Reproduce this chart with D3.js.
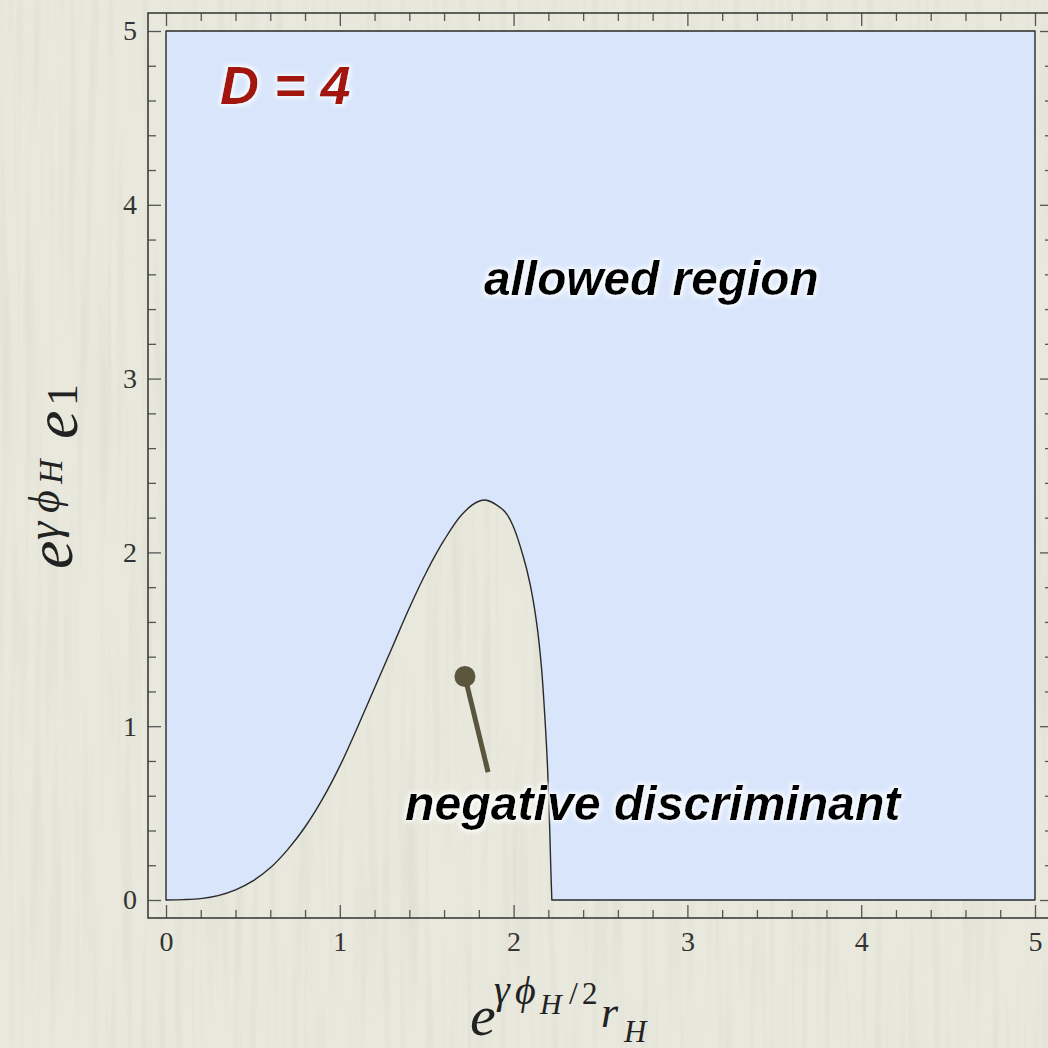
<!DOCTYPE html>
<html>
<head>
<meta charset="utf-8">
<script src="https://cdn.jsdelivr.net/npm/d3@7"></script>
<style>
  html, body { margin: 0; padding: 0; background: #e8e8dd; }
  svg { display: block; }
</style>
</head>
<body>
<svg id="chart" width="1048" height="1048"></svg>
<script>
// Boundary of the negative-discriminant region (D = 4), as rH -> e1 pairs
const boundaryRH = [0, 0.1, 0.2, 0.3, 0.4, 0.5, 0.6, 0.7, 0.8, 0.9, 1.0, 1.1, 1.2, 1.3, 1.4, 1.5, 1.6, 1.7, 1.79, 1.845, 1.95, 2.0, 2.056, 2.094, 2.133, 2.16, 2.18, 2.195, 2.208, 2.215, 2.22];
const boundaryE1 = [0, 0.002, 0.008, 0.025, 0.058, 0.11, 0.185, 0.29, 0.42, 0.58, 0.77, 0.99, 1.22, 1.45, 1.68, 1.89, 2.07, 2.215, 2.29, 2.30, 2.234, 2.145, 1.975, 1.822, 1.592, 1.342, 1.05, 0.77, 0.40, 0.15, 0];

// Plot window
const xDomain = [0, 5];
const yDomain = [0, 5];
const xTickValues = [0, 1, 2, 3, 4, 5];
const yTickValues = [0, 1, 2, 3, 4, 5];
const minorStep = 0.2;

// Pointer marking the excluded region: knob and tail end
const pointerHead = [1.72, 1.286];
const pointerTail = [1.853, 0.736];

const svg = d3.select("#chart");
const W = 1048, H = 1048;

const x = d3.scaleLinear().domain(xDomain).range([166, 1035]);
const y = d3.scaleLinear().domain(yDomain).range([900, 31]);

const defs = svg.append("defs");

// paper texture: faint vertical streaks
const paper = defs.append("filter").attr("id", "paper")
  .attr("x", 0).attr("y", 0).attr("width", 1).attr("height", 1);
paper.append("feTurbulence").attr("type", "fractalNoise")
  .attr("baseFrequency", "0.12 0.004").attr("numOctaves", 2).attr("seed", 3).attr("result", "n");
paper.append("feColorMatrix").attr("in", "n").attr("type", "matrix")
  .attr("values", "0 0 0 0 0.45  0 0 0 0 0.45  0 0 0 0 0.38  1.2 0 0 0 -0.55");

// soft white halo behind the annotations
const glow = defs.append("filter").attr("id", "glow")
  .attr("x", "-10%").attr("y", "-30%").attr("width", "120%").attr("height", "160%");
glow.append("feMorphology").attr("in", "SourceAlpha").attr("operator", "dilate").attr("radius", 1.5).attr("result", "d");
glow.append("feGaussianBlur").attr("in", "d").attr("stdDeviation", 2.2).attr("result", "b");
glow.append("feFlood").attr("flood-color", "#ffffff").attr("flood-opacity", 0.85).attr("result", "c");
glow.append("feComposite").attr("in", "c").attr("in2", "b").attr("operator", "in").attr("result", "h");
const gm = glow.append("feMerge");
gm.append("feMergeNode").attr("in", "h");
gm.append("feMergeNode").attr("in", "SourceGraphic");

// background paper
svg.append("rect").attr("width", W).attr("height", H).attr("fill", "#e8e8dd");
svg.append("rect").attr("width", W).attr("height", H).attr("filter", "url(#paper)").attr("opacity", 0.3);

// allowed region = plot window minus the area under the boundary
const pts = boundaryRH.map((r, i) => [r, boundaryE1[i]]);
const curveLine = d3.line().x(d => x(d[0])).y(d => y(d[1])).curve(d3.curveCatmullRom.alpha(0.5));
const allowedPath = curveLine(pts)
  + "L" + x(xDomain[1]) + "," + y(yDomain[0])
  + "L" + x(xDomain[1]) + "," + y(yDomain[1])
  + "L" + x(xDomain[0]) + "," + y(yDomain[1]) + "Z";

svg.append("path").attr("d", allowedPath)
  .attr("fill", "#d8e5fb")
  .attr("stroke", "none");
svg.append("path").attr("d", allowedPath)
  .attr("fill", "none")
  .attr("stroke", "#2a2a2a")
  .attr("stroke-width", 1.4)
  .attr("stroke-linejoin", "round");

// frame with inward ticks on all four sides
const frameL = 148, frameR = 1053, frameT = 13, frameB = 918;
const minorX = d3.range(xDomain[0], xDomain[1] + 1e-9, minorStep).filter(v => Math.abs(v - Math.round(v)) > 1e-6);
const minorY = d3.range(yDomain[0], yDomain[1] + 1e-9, minorStep).filter(v => Math.abs(v - Math.round(v)) > 1e-6);

function styleAxis(g) {
  g.select(".domain").remove();
  g.selectAll(".tick line").attr("stroke", "#555").attr("stroke-width", 1.3);
  g.selectAll(".tick text")
    .attr("fill", "#333")
    .attr("font-family", "'Liberation Serif', 'Times New Roman', serif")
    .attr("font-size", 28);
}

// bottom
svg.append("g").attr("transform", `translate(0,${frameB})`)
  .call(d3.axisBottom(x).tickValues(xTickValues).tickSize(-13).tickPadding(13).tickFormat(d3.format("d")))
  .call(styleAxis);
svg.append("g").attr("transform", `translate(0,${frameB})`)
  .call(d3.axisBottom(x).tickValues(minorX).tickSize(-8).tickFormat(""))
  .call(styleAxis);
// top
svg.append("g").attr("transform", `translate(0,${frameT})`)
  .call(d3.axisTop(x).tickValues(xTickValues).tickSize(-13).tickFormat(""))
  .call(styleAxis);
svg.append("g").attr("transform", `translate(0,${frameT})`)
  .call(d3.axisTop(x).tickValues(minorX).tickSize(-8).tickFormat(""))
  .call(styleAxis);
// left
svg.append("g").attr("transform", `translate(${frameL},0)`)
  .call(d3.axisLeft(y).tickValues(yTickValues).tickSize(-13).tickPadding(11).tickFormat(d3.format("d")))
  .call(styleAxis);
svg.append("g").attr("transform", `translate(${frameL},0)`)
  .call(d3.axisLeft(y).tickValues(minorY).tickSize(-8).tickFormat(""))
  .call(styleAxis);
// right
svg.append("g").attr("transform", `translate(${frameR},0)`)
  .call(d3.axisRight(y).tickValues(yTickValues).tickSize(-13).tickFormat(""))
  .call(styleAxis);
svg.append("g").attr("transform", `translate(${frameR},0)`)
  .call(d3.axisRight(y).tickValues(minorY).tickSize(-8).tickFormat(""))
  .call(styleAxis);

svg.append("rect")
  .attr("x", frameL).attr("y", frameT)
  .attr("width", frameR - frameL).attr("height", frameB - frameT)
  .attr("fill", "none").attr("stroke", "#3c3c3c").attr("stroke-width", 1.6);

// pointer into the excluded region
svg.append("line")
  .attr("x1", x(pointerHead[0])).attr("y1", y(pointerHead[1]))
  .attr("x2", x(pointerTail[0])).attr("y2", y(pointerTail[1]))
  .attr("stroke", "#5a553d").attr("stroke-width", 5);
svg.append("circle")
  .attr("cx", x(pointerHead[0])).attr("cy", y(pointerHead[1]))
  .attr("r", 10.5).attr("fill", "#5a553d");

// annotations
const sans = "'Liberation Sans', Arial, Helvetica, sans-serif";
svg.append("text").attr("x", 220).attr("y", 104)
  .attr("font-family", sans).attr("font-weight", "bold").attr("font-style", "italic")
  .attr("font-size", 54).attr("fill", "#a31808").attr("filter", "url(#glow)")
  .text("D = 4");
svg.append("text").attr("x", 484).attr("y", 295)
  .attr("font-family", sans).attr("font-weight", "bold").attr("font-style", "italic")
  .attr("font-size", 47.8).attr("fill", "#000").attr("filter", "url(#glow)")
  .text("allowed region");
svg.append("text").attr("x", 405).attr("y", 820)
  .attr("font-family", sans).attr("font-weight", "bold").attr("font-style", "italic")
  .attr("font-size", 48.2).attr("fill", "#000").attr("filter", "url(#glow)")
  .text("negative discriminant");

// axis titles, typeset piece by piece
const serif = "'Liberation Serif', 'DejaVu Serif', 'Times New Roman', serif";
function piece(g, txt, px, py, size, italic) {
  g.append("text").attr("x", px).attr("y", py)
    .attr("font-family", serif).attr("font-size", size)
    .attr("font-style", italic ? "italic" : "normal")
    .attr("fill", "#222").text(txt);
}

// x title: e^{γ φ_H / 2} r_H
const xt = svg.append("g").attr("transform", "translate(0,-3)");
piece(xt, "e", 470, 1038, 58, true);
piece(xt, "γ", 494, 1006, 40, true);
piece(xt, "ϕ", 515, 1007, 40, true);
piece(xt, "H", 540, 1017, 30, true);
piece(xt, "/", 569, 1007, 32, false);
piece(xt, "2", 582, 1007, 31, false);
piece(xt, "r", 601, 1030, 44, true);
piece(xt, "H", 624, 1045, 31, true);

// y title: e^{γ φ_H} e_1 (reads upward)
const yt = svg.append("g").attr("transform", "translate(72,567) rotate(-90)");
piece(yt, "e", -2, 0, 64, true);
piece(yt, "γ", 27, -13, 46, true);
piece(yt, "ϕ", 54, -13, 44, true);
piece(yt, "H", 83, -10, 34, true);
piece(yt, "e", 128, 5, 64, true);
piece(yt, "1", 161, 5, 44, false);
</script>
</body>
</html>
